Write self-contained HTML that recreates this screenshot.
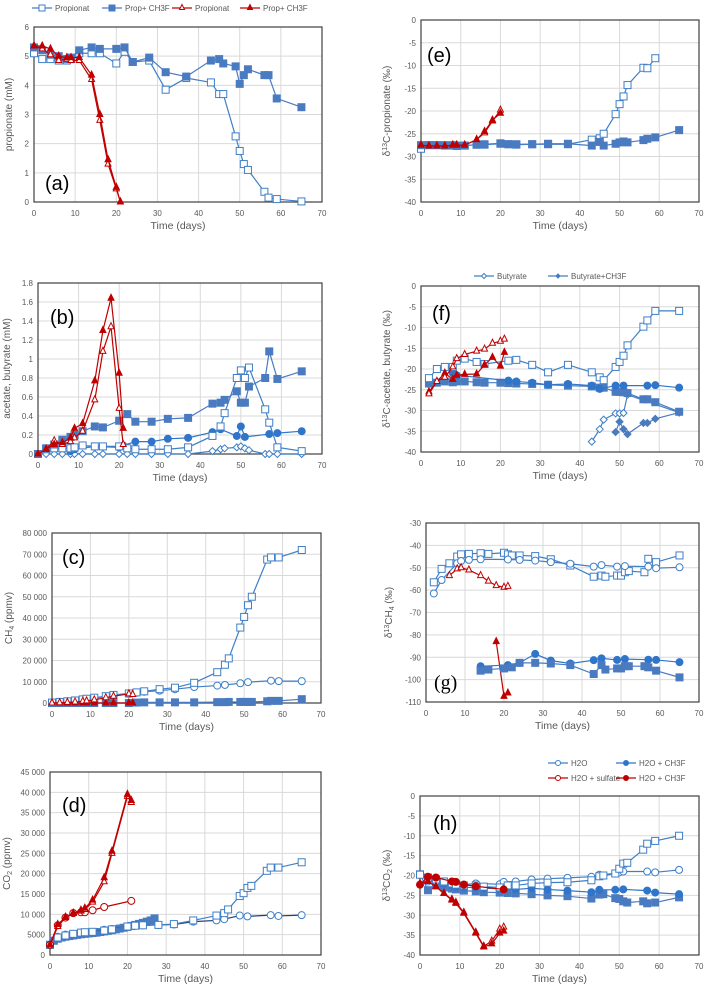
<!DOCTYPE html>
<html><head><meta charset="utf-8">
<style>
html,body{margin:0;padding:0;background:#fff;}
svg{display:block;font-family:"Liberation Sans",sans-serif;}
</style></head>
<body>
<svg id="fig" width="708" height="992" viewBox="0 0 708 992"></svg>
<script>
// ---- data arrays ----
const aDays1=[0,2,4,6,8,9,11,14,16,20,22,24,28,32,37,43,45,46,49,50,51,52,56,57,59,65];
const aPropOpen=[5.1,4.9,4.9,4.85,4.85,4.9,5.1,5.1,5.1,4.75,5.15,4.8,4.85,3.85,4.25,4.1,3.7,3.7,2.25,1.75,1.3,1.1,0.35,0.15,0.1,0.02];
const aPropFill=[5.3,5.2,5.05,5.0,4.9,4.95,5.2,5.3,5.25,5.25,5.3,4.8,4.95,4.45,4.3,4.85,4.9,4.75,4.65,4.05,4.35,4.55,4.35,4.35,3.55,3.25];
const aDaysR=[0,2,4,6,8,9,11,14,16,18,20,21];
const aRedOpen=[5.35,5.25,5.05,4.85,4.9,4.85,4.85,4.2,2.8,1.3,0.45,0];
const aRedFill=[5.35,5.35,5.25,5.0,4.95,4.95,4.95,4.35,3.0,1.45,0.5,0];

const bRedFill=[0,0.05,0.1,0.12,0.17,0.27,0.32,0.77,1.3,1.64,0.85,0.27];
const bRedOpen=[0,0.05,0.14,0.1,0.13,0.17,0.24,0.57,1.08,1.34,0.48,0.1];
const bSqFill=[0,0.06,0.1,0.15,0.18,0.2,0.24,0.29,0.28,0.35,0.42,0.34,0.34,0.37,0.38,0.53,0.54,0.57,0.66,0.54,0.54,0.71,0.8,1.08,0.79,0.87];
const bSqOpen=[0,0.05,0.06,0.06,0.06,0.07,0.09,0.08,0.08,0.08,0.06,0.05,0.05,0.05,0.07,0.19,0.29,0.43,0.8,0.88,0.8,0.91,0.47,0.33,0.07,0.03];
const bCircDays=[8,9,14,20,21,24,28,32,37,43,45,49,50,51,57,59,65];
const bCirc=[0.03,0.05,0.08,0.07,0.09,0.13,0.13,0.16,0.17,0.23,0.26,0.19,0.29,0.18,0.21,0.22,0.24];
const bDiam=[0,0,0,0,0,0,0,0,0,0,0,0,0,0,0,0.03,0.05,0.06,0.07,0.08,0.06,0.04,0,0,0,0];

const cSqOpen=[200,500,800,1200,1700,2000,2500,3200,3800,4500,5000,5500,6500,7200,9500,14500,18000,21000,35500,40500,46000,50000,67500,68500,68500,72000];
const cCircDays=[0,2,4,6,8,9,11,14,16,20,22,24,28,32,37,43,45,49,51,57,59,65];
const cCirc=[200,500,800,1100,1500,1800,2300,3000,3500,4300,4800,5300,5800,6500,7500,8200,8500,9300,9800,10500,10300,10300];
const cSqFill=[0,0,0,0,0,0,0,0,0,0,200,300,300,300,300,400,400,500,500,500,500,500,800,1000,1000,1800];
const cRedDays=[0,2,4,6,8,9,11,14,16,20,21];
const cRedOpen=[0,100,300,500,800,1000,1500,2500,3200,4300,4000];
const cRedFill=[0,0,0,0,0,0,0,0,0,0,0];

const dRedFill=[2500,7500,9300,10300,11000,11500,13500,19000,25500,39500,38000];
const dRedOpen=[2500,7000,9200,10200,10800,11200,13000,18000,25000,39000,37500];
const dRedCircDays=[0,2,4,6,8,9,11,14,21];
const dRedCirc=[2500,7300,9200,10300,10500,10500,11000,11800,13300];
const dSqOpen=[2500,4300,4800,5200,5500,5600,5700,6000,6300,7000,7200,7300,7400,7600,8500,9700,10300,11200,14500,15200,16500,17000,20700,21500,21500,22800];
const dCirc=[2500,4500,5000,5200,5500,5500,5700,6200,6400,7000,7200,7300,7400,7500,8200,8500,8800,9700,9500,9800,9600,9800];
const dBandDays=[0,1,2,3,4,5,6,7,8,9,10,11,12,13,14,15,16,17,18,19,20,21,22,23,24,25,26,27];
const dBand=[2500,3500,4000,4300,4500,4650,4800,4950,5100,5200,5300,5400,5500,5650,5800,5950,6100,6300,6500,6700,6900,7150,7400,7650,7900,8200,8500,9000];

const eRedFill=[-27.5,-27.7,-27.7,-27.7,-27.5,-27.5,-27.5,-26.3,-24.5,-22,-20.5];
const eRedOpen=[-27.5,-27.7,-27.7,-27.7,-27.5,-27.5,-27.5,-26.3,-24.8,-22.2,-19.8];
const eRedDays=[0,2,4,6,8,9,11,14,16,18,20];
const eSqOpenDays=[0,2,4,6,8,9,11,14,16,20,22,24,28,32,37,43,45,46,49,50,51,52,56,57,59];
const eSqOpen=[-28.3,-27.5,-27.5,-27.6,-27.6,-27.7,-27.6,-27.4,-27.4,-27.2,-27.3,-27.4,-27.3,-27.3,-27.3,-26.3,-26,-25,-20.7,-18.5,-16.8,-14.3,-10.5,-10.6,-8.4];
const eSqFill=[-27.5,-27.5,-27.5,-27.5,-27.5,-27.6,-27.6,-27.4,-27.3,-27.1,-27.3,-27.3,-27.3,-27.2,-27.2,-27.6,-26.8,-27.6,-27.2,-26.9,-26.7,-26.9,-26.4,-26.1,-25.8,-24.2];

const fRedDays=[2,4,6,8,9,11,14,16,18,20,21];
const fRedOpen=[-26,-23,-22,-19.5,-17.5,-16.5,-15.7,-15.2,-13.8,-13.3,-12.8];
const fRedFill=[-25.5,-23,-21,-22.5,-21.5,-21.3,-21.2,-19,-17.2,-19.3,-16];
const fSqOpenDays=[2,4,6,8,9,11,14,16,22,24,28,32,37,43,45,46,49,50,51,52,56,57,59,65];
const fSqOpen=[-22.2,-20,-19.5,-19.5,-18,-17.5,-18.3,-18.8,-18,-17.8,-19,-20.8,-19,-20.8,-22,-22.7,-19.5,-18.3,-16.8,-14.3,-9.8,-8.3,-6,-6];
const fSqFillDays=[2,4,6,8,9,11,14,16,20,22,24,28,32,37,43,45,46,49,50,51,52,56,57,59,65];
const fSqFill=[-23.5,-23.3,-23,-23.2,-23,-23,-23.2,-23.3,-23.3,-23.4,-23.5,-23.6,-23.8,-24,-24.2,-24.5,-24.5,-25.5,-25.5,-25.6,-25.8,-27.3,-27.3,-28,-30.3];
const fCircDays=[8,9,22,24,28,32,37,43,45,49,51,57,59,65];
const fCirc=[-21,-21.5,-22.8,-23,-23.3,-23.8,-23.6,-24,-24.8,-24,-24,-24,-23.9,-24.5];
const fDiamOpenDays=[43,45,46,49,50,51,52,65];
const fDiamOpen=[-37.5,-34.5,-32.2,-30.7,-30.7,-30.6,-26.2,-30.5];
const fDiamFillDays=[49,50,51,52,56,57,59,65];
const fDiamFill=[-35.2,-32.7,-34.5,-35.7,-33,-33,-32,-30.5];

const gSqOpenDays=[2,4,6,8,9,11,14,16,20,21,22,24,28,32,37,43,45,46,49,50,51,52,56,57,59,65];
const gSqOpen=[-56.5,-50.5,-48,-45,-44,-43.8,-43.5,-43.8,-43.3,-44,-44.5,-44.5,-44.8,-46.2,-49,-54,-53.5,-54,-53.5,-53.5,-52,-51.5,-52,-46,-47.5,-44.5];
const gCircOpenDays=[2,4,8,9,11,14,21,24,28,32,37,43,45,49,51,57,59,65];
const gCircOpen=[-61.5,-55.5,-48,-47,-46.5,-46.2,-46.3,-46.5,-46.8,-47.5,-48.2,-49.5,-48.8,-49.5,-49.3,-49.5,-50.2,-49.8];
const gRedOpenDays=[6,8,9,11,14,16,18,20,21];
const gRedOpen=[-53.5,-50.5,-50,-51,-53.5,-56,-58,-58.7,-58.3];
const gRedFillDays=[18,20,21];
const gRedFill=[-83,-107.5,-106];
const gCircFillDays=[14,21,24,28,32,37,43,45,49,51,57,59,65];
const gCircFill=[-94,-93.5,-92.5,-88.5,-91.5,-92.8,-91.3,-90.5,-91.2,-90.8,-91.1,-91.2,-92.2];
const gSqFillDays=[14,16,20,22,24,28,32,37,43,45,46,49,50,51,52,56,57,59,65];
const gSqFill=[-96,-95.5,-95,-94.5,-92.5,-92.5,-92.8,-93.5,-97.5,-93.5,-95.5,-95,-95,-94,-94,-94,-94.5,-96,-99];

const hRedFill=[-22,-21.5,-22.8,-24.5,-26.2,-27,-29.5,-34.5,-38,-37.2,-34.5,-34];
const hRedOpen=[-22,-21.5,-22.8,-24.5,-26,-26.8,-29.3,-34.3,-37.8,-36.5,-33.5,-33];
const hRedCircDays=[0,2,4,8,9,11,14,21];
const hRedCirc=[-22.3,-20.3,-20.5,-21.5,-21.6,-22.3,-22.7,-23.5];
const hCircOpenDays=[2,4,6,8,9,11,14,20,21,24,28,32,37,43,45,49,50,51,57,59,65];
const hCircOpen=[-21.5,-21.5,-21.7,-22,-22.3,-22.3,-22,-22.2,-21.6,-21.5,-21,-20.8,-20.6,-20.3,-19.8,-19.5,-19.2,-19,-19,-19.2,-18.6];
const hSqOpen=[-19.8,-20.5,-21,-21.5,-22,-22.3,-22.5,-22.5,-22.8,-23,-22.5,-22.5,-22,-21.8,-21.7,-21.2,-20.2,-20,-19.5,-18.3,-17,-16.8,-13.5,-12,-11.3,-10];
const hCircFillDays=[0,2,4,6,8,9,11,14,16,20,21,24,28,32,37,43,45,49,51,57,59,65];
const hCircFill=[-19.8,-20.5,-21.5,-22,-22.5,-22.8,-23,-23,-23.2,-23.3,-23.5,-23.5,-23.2,-23.5,-23.8,-24.2,-23.6,-23.6,-23.5,-23.8,-24.3,-24.7];
const hSqFill=[-19.7,-23.7,-22.5,-23,-23.3,-23.5,-23.8,-24,-24.2,-24.3,-24.4,-24.5,-24.7,-25,-25.2,-25.8,-24.8,-24.7,-25.7,-25.9,-26.5,-26.8,-26.5,-27,-26.8,-25.5];

const xTicks=[0,10,20,30,40,50,60,70];

// ---- rendering ----
const NS='http://www.w3.org/2000/svg';
const svg=document.getElementById('fig');
const BLUE='#3f7fc6', BFILL='#4a7bc0', RED='#c00000';
function mk(tag,attrs,parent){const e=document.createElementNS(NS,tag);for(const k in attrs)e.setAttribute(k,attrs[k]);(parent||svg).appendChild(e);return e;}
function fmt(v){if(Math.abs(v)>=10000){const s=String(v);return s.slice(0,s.length-3)+' '+s.slice(-3);}return String(v);}

function marker(g,shape,x,y,fill,col,s){
  let e;
  if(shape==='sq') e=mk('rect',{x:x-s,y:y-s,width:2*s,height:2*s},g);
  else if(shape==='ci') e=mk('circle',{cx:x,cy:y,r:s},g);
  else if(shape==='tr') e=mk('polygon',{points:`${x},${y-s-1} ${x-s},${y+s-1} ${x+s},${y+s-1}`},g);
  else e=mk('polygon',{points:`${x},${y-s} ${x+s},${y} ${x},${y+s} ${x-s},${y}`},g);
  e.setAttribute('fill',fill?col:'#fff');e.setAttribute('stroke',col);e.setAttribute('stroke-width','1');
  return e;
}

function panel(p){
  const g=mk('g',{});
  
  
  const X=v=>p.x0+(v-0)/70*(p.x1-p.x0);
  const Y=v=>p.yb-(v-p.ymin)/(p.ymax-p.ymin)*(p.yb-p.yt);
  // grid
  for(let v=p.ymin;v<=p.ymax+1e-9;v+=p.ystep){
    const y=Y(v);
    const l=mk('line',{x1:p.x0,x2:p.x1,y1:y,y2:y,stroke:'#d9d9d9','stroke-width':1},g);
    
    const t=mk('text',{x:p.x0-5,y:y+3,'text-anchor':'end','font-size':8,fill:'#595959'},g);
    t.textContent=fmt(Math.round(v*100)/100);
    
  }
  xTicks.forEach(v=>{
    const x=X(v);
    mk('line',{x1:x,x2:x,y1:p.yt,y2:p.yb,stroke:'#d9d9d9','stroke-width':1},g);
    const t=mk('text',{x:x,y:p.yb+14,'text-anchor':'middle','font-size':8,fill:'#595959'},g);
    t.textContent=v;
    
  });
  const fr=mk('rect',{x:p.x0,y:p.yt,width:p.x1-p.x0,height:p.yb-p.yt,fill:'none',stroke:'#404040','stroke-width':1.2},g);
  
  const xt=mk('text',{x:(p.x0+p.x1)/2,y:p.yb+27,'text-anchor':'middle','font-size':10.5,fill:'#595959'},g);
  xt.textContent='Time (days)';
  
  const yt=mk('text',{x:0,y:0,'text-anchor':'middle','font-size':10,fill:'#595959',transform:`translate(${p.ytx},${(p.yt+p.yb)/2}) rotate(-90)`},g);
  yt.innerHTML=p.ytitle;
  
  const lb=mk('text',{x:p.lx,y:p.ly,'font-size':20,fill:'#000',"font-family":p.serif?'Liberation Serif,serif':'Liberation Sans,sans-serif'},g);
  lb.textContent='('+p.id+')';
  
  p.series.forEach(s=>{
    const sg=mk('g',{},g);
    
    
    const pts=s.x.map((d,i)=>X(d)+','+Y(s.y[i])).join(' ');
    if(s.line!==false) mk('polyline',{points:pts,fill:'none',stroke:s.lc||s.col,'stroke-width':s.lw||1.2},sg);
    s.x.forEach((d,i)=>{
      const m=marker(sg,s.shape,X(d),Y(s.y[i]),s.fill,s.col,s.size||3.5);
      
      
    });
  });
}

panel({id:'a',x0:34,x1:322,yt:27,yb:202,ymin:0,ymax:6,ystep:1,ytx:12,lx:45,ly:190,
  ytitle:'propionate (mM)',series:[
  {name:'prop-open',x:aDays1,y:aPropOpen,shape:'sq',fill:false,col:BLUE},
  {name:'prop-ch3f',x:aDays1,y:aPropFill,shape:'sq',fill:true,col:BFILL},
  {name:'red-open',x:aDaysR,y:aRedOpen,shape:'tr',fill:false,col:RED,size:3},
  {name:'red-ch3f',x:aDaysR,y:aRedFill,shape:'tr',fill:true,col:RED,size:3}]});

panel({id:'b',x0:38,x1:322,yt:283,yb:454,ymin:0,ymax:1.8,ystep:0.2,ytx:10,lx:50,ly:324,
  ytitle:'acetate, butyrate (mM)',series:[
  {name:'diamond-open',x:aDays1,y:bDiam,shape:'di',fill:false,col:BLUE,size:3.5},
  {name:'circle-fill',x:bCircDays,y:bCirc,shape:'ci',fill:true,col:'#2f75c9',size:3.5},
  {name:'sq-open',x:aDays1,y:bSqOpen,shape:'sq',fill:false,col:BLUE},
  {name:'sq-fill',x:aDays1,y:bSqFill,shape:'sq',fill:true,col:BFILL},
  {name:'red-open',x:aDaysR,y:bRedOpen,shape:'tr',fill:false,col:RED,size:3},
  {name:'red-fill',x:aDaysR,y:bRedFill,shape:'tr',fill:true,col:RED,size:3}]});

panel({id:'c',x0:52,x1:321,yt:533,yb:703,ymin:0,ymax:80000,ystep:10000,ytx:12,lx:62,ly:564,
  ytitle:'CH<tspan font-size="7" dy="2">4</tspan><tspan dy="-2"> (ppmv)</tspan>',series:[
  {name:'sq-fill',x:aDays1,y:cSqFill,shape:'sq',fill:true,col:BFILL},
  {name:'circle-open',x:cCircDays,y:cCirc,shape:'ci',fill:false,col:BLUE,size:3.5},
  {name:'sq-open',x:aDays1,y:cSqOpen,shape:'sq',fill:false,col:BLUE},
  {name:'red-fill',x:cRedDays,y:cRedFill,shape:'tr',fill:true,col:RED,size:3},
  {name:'red-open',x:cRedDays,y:cRedOpen,shape:'tr',fill:false,col:RED,size:3}]});

panel({id:'d',x0:50,x1:321,yt:772,yb:955,ymin:0,ymax:45000,ystep:5000,ytx:10,lx:62,ly:812,
  ytitle:'CO<tspan font-size="7" dy="2">2</tspan><tspan dy="-2"> (ppmv)</tspan>',series:[
  {name:'band-fill',x:dBandDays,y:dBand,shape:'sq',fill:true,col:BFILL,lc:'#1f3f7a',lw:1.5},
  {name:'circle-open',x:cCircDays,y:dCirc,shape:'ci',fill:false,col:BLUE,size:3.5,lc:'#1f3f7a'},
  {name:'sq-open',x:aDays1,y:dSqOpen,shape:'sq',fill:false,col:BLUE},
  {name:'red-circle',x:dRedCircDays,y:dRedCirc,shape:'ci',fill:false,col:RED,size:3.5},
  {name:'red-open',x:cRedDays,y:dRedOpen,shape:'tr',fill:false,col:RED,size:3},
  {name:'red-fill',x:cRedDays,y:dRedFill,shape:'tr',fill:true,col:RED,size:3}]});

panel({id:'e',x0:421,x1:699,yt:20,yb:202,ymin:-40,ymax:0,ystep:5,ytx:390,lx:427,ly:62,
  ytitle:'δ<tspan font-size="7" dy="-3">13</tspan><tspan dy="3">C-propionate (‰)</tspan>',series:[
  {name:'sq-open',x:eSqOpenDays,y:eSqOpen,shape:'sq',fill:false,col:BLUE},
  {name:'sq-fill',x:aDays1,y:eSqFill,shape:'sq',fill:true,col:BFILL},
  {name:'red-open',x:eRedDays,y:eRedOpen,shape:'tr',fill:false,col:RED,size:3},
  {name:'red-fill',x:eRedDays,y:eRedFill,shape:'tr',fill:true,col:RED,size:3}]});

panel({id:'f',x0:421,x1:699,yt:286,yb:452,ymin:-40,ymax:0,ystep:5,ytx:390,lx:432,ly:320,
  ytitle:'δ<tspan font-size="7" dy="-3">13</tspan><tspan dy="3">C-acetate, butyrate (‰)</tspan>',series:[
  {name:'diamond-open',x:fDiamOpenDays,y:fDiamOpen,shape:'di',fill:false,col:BLUE,size:3.5},
  {name:'diamond-fill',x:fDiamFillDays,y:fDiamFill,shape:'di',fill:true,col:BFILL,size:3.5},
  {name:'sq-fill',x:fSqFillDays,y:fSqFill,shape:'sq',fill:true,col:BFILL},
  {name:'circle-fill',x:fCircDays,y:fCirc,shape:'ci',fill:true,col:'#2f75c9',size:3.5},
  {name:'sq-open',x:fSqOpenDays,y:fSqOpen,shape:'sq',fill:false,col:BLUE},
  {name:'red-fill',x:fRedDays,y:fRedFill,shape:'tr',fill:true,col:RED,size:3},
  {name:'red-open',x:fRedDays,y:fRedOpen,shape:'tr',fill:false,col:RED,size:3}]});

panel({id:'g',x0:426,x1:699,yt:523,yb:702,ymin:-110,ymax:-30,ystep:10,ytx:392,lx:434,ly:689,serif:true,
  ytitle:'δ<tspan font-size="7" dy="-3">13</tspan><tspan dy="3">CH</tspan><tspan font-size="7" dy="2">4</tspan><tspan dy="-2"> (‰)</tspan>',series:[
  {name:'sq-open',x:gSqOpenDays,y:gSqOpen,shape:'sq',fill:false,col:BLUE},
  {name:'circle-open',x:gCircOpenDays,y:gCircOpen,shape:'ci',fill:false,col:BLUE,size:3.5},
  {name:'red-open',x:gRedOpenDays,y:gRedOpen,shape:'tr',fill:false,col:RED,size:3},
  {name:'red-fill',x:gRedFillDays,y:gRedFill,shape:'tr',fill:true,col:RED,size:3},
  {name:'circle-fill',x:gCircFillDays,y:gCircFill,shape:'ci',fill:true,col:'#2f75c9',size:3.5},
  {name:'sq-fill',x:gSqFillDays,y:gSqFill,shape:'sq',fill:true,col:BFILL}]});

panel({id:'h',x0:420,x1:699,yt:796,yb:955,ymin:-40,ymax:0,ystep:5,ytx:390,lx:433,ly:830,
  ytitle:'δ<tspan font-size="7" dy="-3">13</tspan><tspan dy="3">CO</tspan><tspan font-size="7" dy="2">2</tspan><tspan dy="-2"> (‰)</tspan>',series:[
  {name:'sq-fill',x:aDays1,y:hSqFill,shape:'sq',fill:true,col:BFILL},
  {name:'circle-fill',x:hCircFillDays,y:hCircFill,shape:'ci',fill:true,col:'#2f75c9',size:3.5},
  {name:'circle-open',x:hCircOpenDays,y:hCircOpen,shape:'ci',fill:false,col:BLUE,size:3.5},
  {name:'sq-open',x:aDays1,y:hSqOpen,shape:'sq',fill:false,col:BLUE},
  {name:'red-open',x:aDaysR,y:hRedOpen,shape:'tr',fill:false,col:RED,size:3},
  {name:'red-fill',x:aDaysR,y:hRedFill,shape:'tr',fill:true,col:RED,size:3},
  {name:'red-circle',x:hRedCircDays,y:hRedCirc,shape:'ci',fill:true,col:RED,size:3.5}]});

// legends
function legend(x,y,shape,fill,col,label,size){
  const g=mk('g',{});
  
  
  mk('line',{x1:x-10,x2:x+10,y1:y,y2:y,stroke:col,'stroke-width':1.2},g);
  marker(g,shape,x,y,fill,col,size||3);
  const t=mk('text',{x:x+13,y:y+3,'font-size':8,fill:'#595959'},g);
  t.textContent=label;
}
legend(42,8,'sq',false,BLUE,'Propionat');
legend(112,8,'sq',true,BFILL,'Prop+ CH3F');
legend(182,8,'tr',false,RED,'Propionat',2.5);
legend(250,8,'tr',true,RED,'Prop+ CH3F',2.5);
legend(484,276,'di',false,BLUE,'Butyrate',2.5);
legend(558,276,'di',true,BFILL,'Butyrate+CH3F',2);
legend(558,763,'ci',false,BLUE,'H2O',2.5);
legend(626,763,'ci',true,'#2f75c9','H2O + CH3F',2.5);
legend(558,778,'ci',false,RED,'H2O + sulfate',2.5);
legend(626,778,'ci',true,RED,'H2O + CH3F',2.5);
</script>
</body></html>
